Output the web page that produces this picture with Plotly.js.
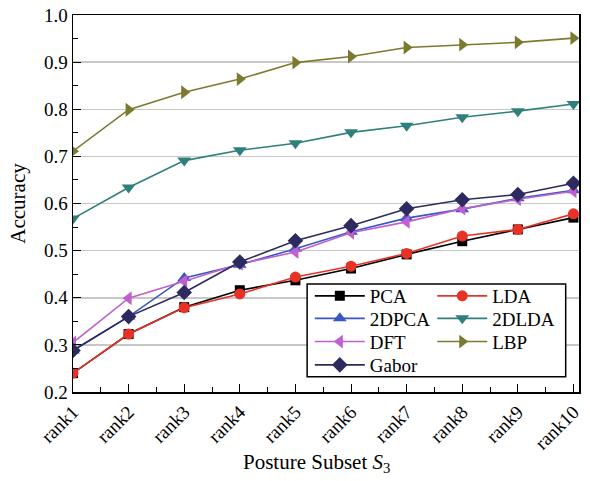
<!DOCTYPE html>
<html>
<head>
<meta charset="utf-8">
<script src="https://cdn.plot.ly/plotly-3.0.1.min.js"></script>
<style>html,body{margin:0;padding:0;background:#fff;}#chart{width:590px;height:481px;}</style>
</head>
<body>
<div id="chart"></div>
<script>
const ranks = ["rank1","rank2","rank3","rank4","rank5","rank6","rank7","rank8","rank9","rank10"];
const pca    = [0.240, 0.323, 0.380, 0.416, 0.437, 0.462, 0.492, 0.520, 0.545, 0.570];
const lda    = [0.240, 0.323, 0.379, 0.408, 0.444, 0.467, 0.494, 0.531, 0.545, 0.578];
const dpca2  = [0.288, 0.360, 0.442, 0.470, 0.504, 0.540, 0.569, 0.588, 0.611, 0.628];
const dlda2  = [0.568, 0.634, 0.691, 0.713, 0.728, 0.751, 0.765, 0.783, 0.796, 0.811];
const dft    = [0.305, 0.399, 0.435, 0.472, 0.497, 0.538, 0.561, 0.589, 0.609, 0.626];
const lbp    = [0.711, 0.799, 0.836, 0.864, 0.899, 0.912, 0.931, 0.937, 0.942, 0.951];
const gabor  = [0.288, 0.360, 0.411, 0.476, 0.521, 0.553, 0.589, 0.608, 0.619, 0.643];
const xTitle = "Posture Subset <i>S</i><sub>3</sub>";
const yTitle = "Accuracy";

const xs = ranks.map((r, i) => i);
const FONT = "Liberation Serif";

function tr(name, y, color, symbol, size, legend) {
  return {
    x: xs, y: y, name: name, type: "scatter", mode: "lines+markers",
    line: {color: color, width: 1.6},
    marker: {color: color, symbol: symbol, size: size},
    legend: legend
  };
}

const data = [
  tr("PCA", pca, "#000000", "square", 10, "legend"),
  tr("LDA", lda, "#e83226", "circle", 11, "legend2"),
  tr("2DPCA", dpca2, "#3a57c4", "triangle-up", 12, "legend3"),
  tr("2DLDA", dlda2, "#2f7f7c", "triangle-down", 12, "legend4"),
  tr("DFT", dft, "#c05fd0", "triangle-left", 12, "legend5"),
  tr("LBP", lbp, "#7c7a2e", "triangle-right", 12, "legend6"),
  tr("Gabor", gabor, "#2c2a5e", "diamond", 12, "legend7")
];

function leg(x, y) {
  return {
    x: x, y: y,
    bgcolor: "rgba(255,255,255,0)",
    borderwidth: 0,
    font: {family: FONT, size: 19, color: "#000"},
    xanchor: "left", yanchor: "middle",
    itemwidth: 50
  };
}
const c1 = 0.468, c2 = 0.710;
const r1 = 0.2546, r2 = 0.195, r3 = 0.1334, r4 = 0.0716;

const layout = {
  width: 590, height: 481,
  margin: {l: 73, r: 11, t: 15, b: 89},
  paper_bgcolor: "#fff", plot_bgcolor: "#fff",
  font: {family: FONT, size: 19, color: "#000"},
  showlegend: true,
  xaxis: {
    range: [0, 9.1],
    tickvals: xs, ticktext: ranks,
    tickangle: -45,
    ticks: "inside", ticklen: 8, tickwidth: 1, tickcolor: "#000",
    minor: {dtick: 0.5, ticks: "inside", ticklen: 5, tickwidth: 1, tickcolor: "#000", showgrid: false},
    showline: true, linecolor: "#000", linewidth: 1.5, mirror: true,
    showgrid: false, zeroline: false,
    tickfont: {family: FONT, size: 19}
  },
  yaxis: {
    range: [0.2, 1.0],
    dtick: 0.1, tickformat: ".1f",
    ticks: "inside", ticklen: 8, tickwidth: 1, tickcolor: "#000",
    minor: {dtick: 0.05, ticks: "inside", ticklen: 5, tickwidth: 1, tickcolor: "#000", showgrid: false},
    showline: true, linecolor: "#000", linewidth: 1.5, mirror: true,
    showgrid: true, gridcolor: "#c8c8c8", gridwidth: 1.5,
    zeroline: false,
    tickfont: {family: FONT, size: 19},
    title: {text: yTitle, font: {family: FONT, size: 21}, standoff: 12}
  },
  annotations: [{
    text: xTitle, xref: "paper", yref: "paper",
    x: 0.482, y: -0.148, xanchor: "center", yanchor: "top",
    showarrow: false, font: {family: FONT, size: 21, color: "#000"}
  }],
  legend: leg(c1, r1),
  legend2: leg(c2, r1),
  legend3: leg(c1, r2),
  legend4: leg(c2, r2),
  legend5: leg(c1, r3),
  legend6: leg(c2, r3),
  legend7: leg(c1, r4),
  shapes: [{
    type: "rect", xref: "paper", yref: "paper",
    x0: 0.4627, x1: 0.9737, y0: 0.0406, y1: 0.2865,
    line: {color: "#000", width: 1.5}, fillcolor: "#fff", layer: "above"
  }]
};

Plotly.newPlot("chart", data, layout, {displayModeBar: false, staticPlot: true});
</script>
</body>
</html>
